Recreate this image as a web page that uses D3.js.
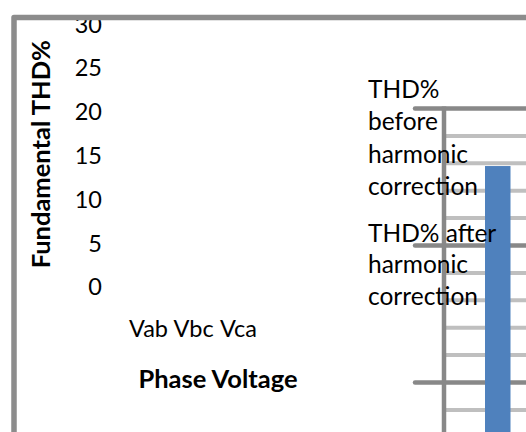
<!DOCTYPE html>
<html>
<head>
<meta charset="utf-8">
<script src="https://cdn.jsdelivr.net/npm/d3@7"></script>
<style>
  html, body { margin: 0; padding: 0; background: #fff; }
  svg { display: block; }
  text { font-family: Lato, "Open Sans", "Liberation Sans", sans-serif; fill: #000; }
</style>
</head>
<body>
<svg id="chart" width="526" height="432"></svg>
<script>
// ---- data ----
const categories = ["Vab", "Vbc", "Vca"];
const yTickValues = [0, 5, 10, 15, 20, 25, 30];
const seriesNames = ["THD% before harmonic correction", "THD% after harmonic correction"];
// only the Vab "before" bar is visible inside the cropped (zoomed) plot
const thdBeforeVisible = [27.9];
const legendBeforeLines = ["THD%", "before", "harmonic", "correction"];
const legendAfterLines = ["THD% after", "harmonic", "correction"];
const yAxisTitle = "Fundamental THD%";
const xAxisTitle = "Phase Voltage";

const W = 526, H = 432;
const svg = d3.select("#chart");

svg.append("defs").append("clipPath").attr("id", "inside")
  .append("rect").attr("x", 17).attr("y", 20).attr("width", W).attr("height", H);

const g = svg.append("g").attr("clip-path", "url(#inside)");

// ---- zoomed-in inner plot (drawn behind the legend text) ----
const yInner = d3.scaleLinear().domain([0, 30]).range([108.5 + 30 * 27.4, 108.5]);
const xInner = d3.scaleBand().domain(categories).range([446, 446 + 3 * 180]);
const xSeries = d3.scaleBand().domain(seriesNames).range([39, 90]);

const inner = g.append("g");
const gridVals = yInner.ticks(30).filter(v => yInner(v) < H + 10);
inner.selectAll("line.minor").data(gridVals.filter(v => v % 5 !== 0)).join("line")
  .attr("class", "minor")
  .attr("x1", 446).attr("x2", W + 5)
  .attr("y1", d => yInner(d)).attr("y2", d => yInner(d))
  .attr("stroke", "#bfbfbf").attr("stroke-width", 4);
inner.selectAll("line.major").data(gridVals.filter(v => v % 5 === 0)).join("line")
  .attr("class", "major")
  .attr("x1", 415).attr("x2", W + 5)
  .attr("y1", d => yInner(d)).attr("y2", d => yInner(d))
  .attr("stroke", "#888888").attr("stroke-width", 4.5).attr("stroke-linecap", "round");
inner.append("line")
  .attr("x1", 444).attr("x2", 444)
  .attr("y1", yInner(30) - 2).attr("y2", H + 5)
  .attr("stroke", "#888888").attr("stroke-width", 4.5);

inner.selectAll("rect.bar").data(thdBeforeVisible).join("rect")
  .attr("class", "bar")
  .attr("x", (d, i) => xInner(categories[i]) + xSeries(seriesNames[0]))
  .attr("width", xSeries.bandwidth())
  .attr("y", d => yInner(d))
  .attr("height", d => yInner(0) - yInner(d))
  .attr("fill", "#4f81bd");

// ---- collapsed outer chart axes ----
const yOuter = d3.scaleLinear().domain([0, 30]).range([286.5, 23.7]);
const yAxis = g.append("g").attr("transform", "translate(102,0)")
  .call(d3.axisLeft(yOuter).tickValues(yTickValues).tickSize(0).tickPadding(0));
yAxis.select(".domain").remove();
yAxis.selectAll("text").attr("font-size", 23.5).attr("dy", "0.36em")
  .style("font-family", "Lato, 'Open Sans', sans-serif").attr("fill", "#000");

const xOuter = d3.scaleBand().domain(categories).range([126, 261]);
const xAxis = g.append("g").attr("transform", "translate(0,320)")
  .call(d3.axisBottom(xOuter).tickSize(0).tickPadding(0));
xAxis.select(".domain").remove();
xAxis.selectAll("text").attr("font-size", 23.5).attr("dy", "0.71em")
  .style("font-family", "Lato, 'Open Sans', sans-serif").attr("fill", "#000");

g.append("text")
  .attr("transform", "translate(50,154.2) rotate(-90)")
  .attr("text-anchor", "middle")
  .attr("font-size", 25.5).attr("font-weight", "bold")
  .text(yAxisTitle);

g.append("text")
  .attr("x", 218).attr("y", 388.3)
  .attr("text-anchor", "middle")
  .attr("font-size", 25.5).attr("font-weight", "bold")
  .text(xAxisTitle);

// ---- legend text ----
g.selectAll("text.legB").data(legendBeforeLines).join("text")
  .attr("class", "legB")
  .attr("x", 368).attr("y", (d, i) => 98 + i * 32.4)
  .attr("font-size", 24.5).text(d => d);
g.selectAll("text.legA").data(legendAfterLines).join("text")
  .attr("class", "legA")
  .attr("x", 368).attr("y", (d, i) => 241.7 + i * 31.7)
  .attr("font-size", 24.5).text(d => d);

// ---- outer chart border ----
svg.append("path")
  .attr("d", `M14,${H + 10} L14,17.5 L${W + 10},17.5`)
  .attr("fill", "none").attr("stroke", "#8c8c8c")
  .attr("stroke-width", 5.5).attr("stroke-linejoin", "round");
</script>
</body>
</html>
